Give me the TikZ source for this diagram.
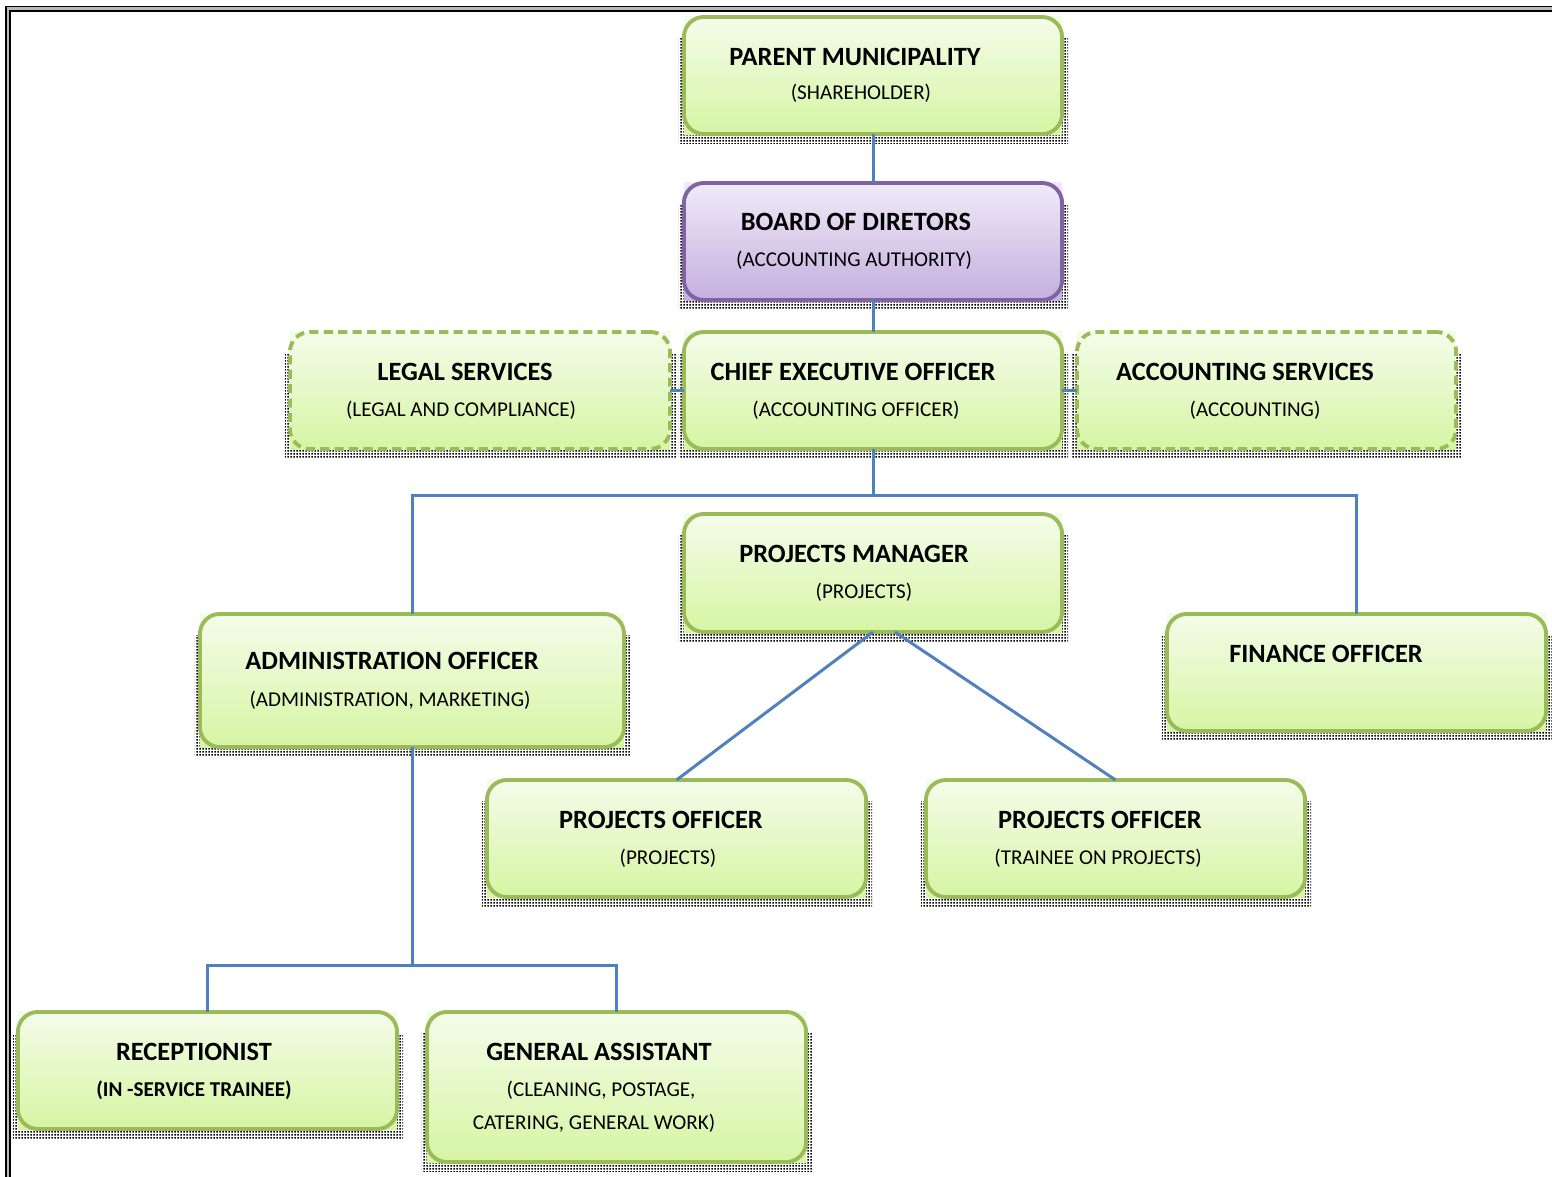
\documentclass[tikz,border=0pt]{standalone}
\usepackage{fontspec}
\setmainfont{Carlito}
\usepackage{tikz}
\usetikzlibrary{backgrounds, patterns.meta}
\definecolor{boxgreen}{HTML}{9BBB59}
\definecolor{boxpurple}{HTML}{8064A2}
\definecolor{linkblue}{HTML}{4F81BD}
\definecolor{greentop}{HTML}{F4FCEA}
\definecolor{greenbot}{HTML}{D6F5A3}
\definecolor{purpletop}{HTML}{F0EAF8}
\definecolor{purplebot}{HTML}{C4B0DE}
\tikzdeclarepattern{
  name=finedots,
  type=uncolored,
  bottom left={(0pt,0pt)},
  top right={(0.9pt,0.9pt)},
  tile size={(0.9pt,0.9pt)},
  code={\pgfpathrectangle{\pgfpoint{0.1pt}{0.1pt}}{\pgfpoint{0.55pt}{0.55pt}}\pgfusepath{fill}}
}

\begin{document}
\begin{tikzpicture}[x=0.01cm, y=-0.01cm,
    box/.style = {draw=boxgreen, line width=1.1pt, rounded corners=0.2cm, inner sep=0pt, outer sep=0pt},
    dashbox/.style = {box, dash pattern=on 2.6pt off 1.5pt},
    title/.style = {font=\fontsize{7.5}{9}\selectfont\bfseries, anchor=base, inner sep=0pt},
    sub/.style = {font=\fontsize{6}{7}\selectfont, anchor=base, inner sep=0pt},
    link/.style = {draw=linkblue, line width=0.85pt}]
  \useasboundingbox (0,0) rectangle (1552,1176);

  % page frame
  \draw[gray!55, line width=1.1pt] (8,1190) |- (1570,8.7);
  \draw[black, line width=0.35pt] (6,1190) |- (1570,6.6);
  \draw[black, line width=0.6pt] (10.2,1190) |- (1570,10.8);

  % boxes
  \node[box, draw=boxpurple, minimum width=3.78cm, minimum height=1.17cm] (bod) at (873,241.5) {};
  \node[box, minimum width=3.78cm, minimum height=1.17cm] (pm) at (873,75.5) {};
  \node[dashbox, minimum width=3.80cm, minimum height=1.17cm] (legal) at (480,390.5) {};
  \node[box, minimum width=3.78cm, minimum height=1.17cm] (ceo) at (873,390.5) {};
  \node[dashbox, minimum width=3.79cm, minimum height=1.17cm] (acc) at (1266.5,390.5) {};
  \node[box, minimum width=3.78cm, minimum height=1.18cm] (pmgr) at (873,573) {};
  \node[box, minimum width=4.24cm, minimum height=1.33cm] (admin) at (412,680.5) {};
  \node[box, minimum width=3.79cm, minimum height=1.17cm] (fin) at (1356.5,672.5) {};
  \node[box, minimum width=3.79cm, minimum height=1.17cm] (po1) at (676.5,838.5) {};
  \node[box, minimum width=3.79cm, minimum height=1.17cm] (po2) at (1115.5,838.5) {};
  \node[box, minimum width=3.79cm, minimum height=1.17cm] (rec) at (207.5,1070.5) {};
  \node[box, minimum width=3.79cm, minimum height=1.50cm] (ga) at (616.5,1087) {};

  % shadows and fills
  \begin{scope}[on background layer]
    \foreach \n/\t/\b in {pm/greentop/greenbot, bod/purpletop/purplebot, legal/greentop/greenbot,
        ceo/greentop/greenbot, acc/greentop/greenbot, pmgr/greentop/greenbot, admin/greentop/greenbot,
        fin/greentop/greenbot, po1/greentop/greenbot, po2/greentop/greenbot, rec/greentop/greenbot,
        ga/greentop/greenbot} {
      \fill[pattern={finedots}, pattern color=black] ([shift={(-5,22)}]\n.north west) rectangle ([shift={(6,9)}]\n.south east);
      \shade[top color=\t, bottom color=\b] (\n.north west) rectangle (\n.south east);
    }
  \end{scope}

  % texts
  \node[title] (pm-t) at (855,65.5) {PARENT MUNICIPALITY};
  \node[sub] (pm-s) at (861,100) {(SHAREHOLDER)};
  \node[title] (bod-t) at (856,230.5) {BOARD OF DIRETORS};
  \node[sub] (bod-s) at (854,266) {(ACCOUNTING AUTHORITY)};
  \node[title] (legal-t) at (465,380.5) {LEGAL SERVICES};
  \node[sub] (legal-s) at (461,416) {(LEGAL AND COMPLIANCE)};
  \node[title] (ceo-t) at (853,380.5) {CHIEF EXECUTIVE OFFICER};
  \node[sub] (ceo-s) at (856,416) {(ACCOUNTING OFFICER)};
  \node[title] (acc-t) at (1245,380.5) {ACCOUNTING SERVICES};
  \node[sub] (acc-s) at (1255,416) {(ACCOUNTING)};
  \node[title] (pmgr-t) at (854,562.5) {PROJECTS MANAGER};
  \node[sub] (pmgr-s) at (864,598) {(PROJECTS)};
  \node[title] (admin-t) at (392,669.5) {ADMINISTRATION OFFICER};
  \node[sub] (admin-s) at (390,706) {(ADMINISTRATION, MARKETING)};
  \node[title] (fin-t) at (1326,662.5) {FINANCE OFFICER};
  \node[title] (po1-t) at (661,828.5) {PROJECTS OFFICER};
  \node[sub] (po1-s) at (668,864) {(PROJECTS)};
  \node[title] (po2-t) at (1100,828.5) {PROJECTS OFFICER};
  \node[sub] (po2-s) at (1098,864) {(TRAINEE ON PROJECTS)};
  \node[title] (rec-t) at (194,1060.5) {RECEPTIONIST};
  \node[sub, font=\fontsize{6}{7}\selectfont\bfseries] (rec-s) at (194,1096) {(IN -SERVICE TRAINEE)};
  \node[title] (ga-t) at (599,1060.5) {GENERAL ASSISTANT};
  \node[sub] (ga-s1) at (601,1096) {(CLEANING, POSTAGE,};
  \node[sub] (ga-s2) at (594,1129) {CATERING, GENERAL WORK)};

  % connectors
  \draw[link] (pm.south) -- (bod.north);
  \draw[link] (bod.south) -- (ceo.north);
  \draw[link] (legal.east) -- (ceo.west);
  \draw[link] (ceo.east) -- (acc.west);
  \draw[link] (ceo.south) -- ++(0,46) coordinate (ceo-hub);
  \draw[link] (admin.north) |- (ceo-hub) -| (fin.north);
  \draw[link] (pmgr.south) -- (po1.north);
  \draw[link] ([shift={(22,0)}]pmgr.south) -- (po2.north);
  \draw[link] (admin.south) -- ++(0,218) coordinate (admin-hub);
  \draw[link] (rec.north) |- (admin-hub) -| (ga.north);
\end{tikzpicture}
\end{document}
